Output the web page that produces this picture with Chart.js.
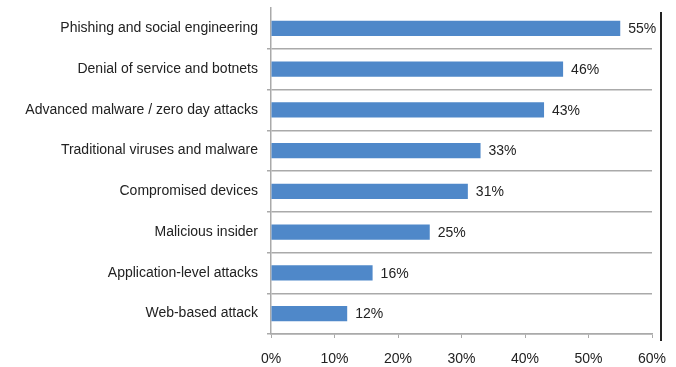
<!DOCTYPE html>
<html>
<head>
<meta charset="utf-8">
<script src="https://cdn.jsdelivr.net/npm/chart.js@4"></script>
<style>
    html, body { margin: 0; padding: 0; background: #fff; }
    #wrap { width: 676px; height: 367px; position: relative; }
</style>
</head>
<body>
<div id="wrap"><canvas id="threatChart"></canvas></div>
<script>
// Chart data
const categories = [
    'Phishing and social engineering',
    'Denial of service and botnets',
    'Advanced malware / zero day attacks',
    'Traditional viruses and malware',
    'Compromised devices',
    'Malicious insider',
    'Application-level attacks',
    'Web-based attack'
];
const percentages = [55, 46, 43, 33, 31, 25, 16, 12];
const tickValues = [0, 10, 20, 30, 40, 50, 60];

const fontFamily = "'Liberation Sans', Arial, sans-serif";

// Value labels at the end of each bar
const valueLabels = {
    id: 'valueLabels',
    afterDatasetsDraw(chart) {
        const ctx = chart.ctx;
        const meta = chart.getDatasetMeta(0);
        ctx.save();
        ctx.font = '14px ' + fontFamily;
        ctx.fillStyle = '#222';
        ctx.textAlign = 'left';
        ctx.textBaseline = 'middle';
        meta.data.forEach(function (bar, i) {
            ctx.fillText(percentages[i] + '%', bar.x + 8, bar.y + 1);
        });
        ctx.restore();
    }
};

// Dark frame line on the right side
const rightFrame = {
    id: 'rightFrame',
    afterDraw(chart) {
        const ctx = chart.ctx;
        ctx.save();
        ctx.strokeStyle = '#222';
        ctx.lineWidth = 2;
        ctx.beginPath();
        ctx.moveTo(661, 12);
        ctx.lineTo(661, 341);
        ctx.stroke();
        ctx.restore();
    }
};

const ctx = document.getElementById('threatChart').getContext('2d');

new Chart(ctx, {
    type: 'bar',
    data: {
        labels: categories,
        datasets: [{
            data: percentages,
            backgroundColor: '#4f88c9',
            borderWidth: 0,
            categoryPercentage: 0.37,
            barPercentage: 1.0
        }]
    },
    plugins: [valueLabels, rightFrame],
    options: {
        indexAxis: 'y',
        responsive: true,
        maintainAspectRatio: false,
        animation: false,
        plugins: {
            legend: { display: false },
            tooltip: { enabled: false }
        },
        layout: {
            padding: { left: 0, right: 24, top: 8, bottom: 0 }
        },
        scales: {
            x: {
                min: 0,
                max: 60,
                afterBuildTicks: function (axis) {
                    axis.ticks = tickValues.map(v => ({ value: v }));
                },
                afterFit: function (axis) {
                    axis.height = 33;
                    axis.paddingLeft = 0;
                    axis.paddingRight = 0;
                },
                border: { color: '#aaa', width: 1.5 },
                grid: {
                    drawOnChartArea: false,
                    drawTicks: true,
                    tickLength: 4,
                    color: '#aaa'
                },
                ticks: {
                    font: { size: 14, family: fontFamily },
                    color: '#222',
                    padding: 13,
                    maxRotation: 0,
                    callback: function (value) {
                        return value + '%';
                    }
                }
            },
            y: {
                afterFit: function (axis) {
                    axis.width = 271;
                    axis.paddingTop = 0;
                    axis.paddingBottom = 0;
                },
                border: { color: '#aaa', width: 1.5 },
                grid: {
                    offset: true,
                    tickLength: 4,
                    lineWidth: 1.5,
                    color: function (context) {
                        return context.index === 0 ? 'rgba(0,0,0,0)' : '#aaa';
                    }
                },
                ticks: {
                    font: { size: 14, family: fontFamily },
                    color: '#222',
                    padding: 9
                }
            }
        }
    }
});
</script>
</body>
</html>
